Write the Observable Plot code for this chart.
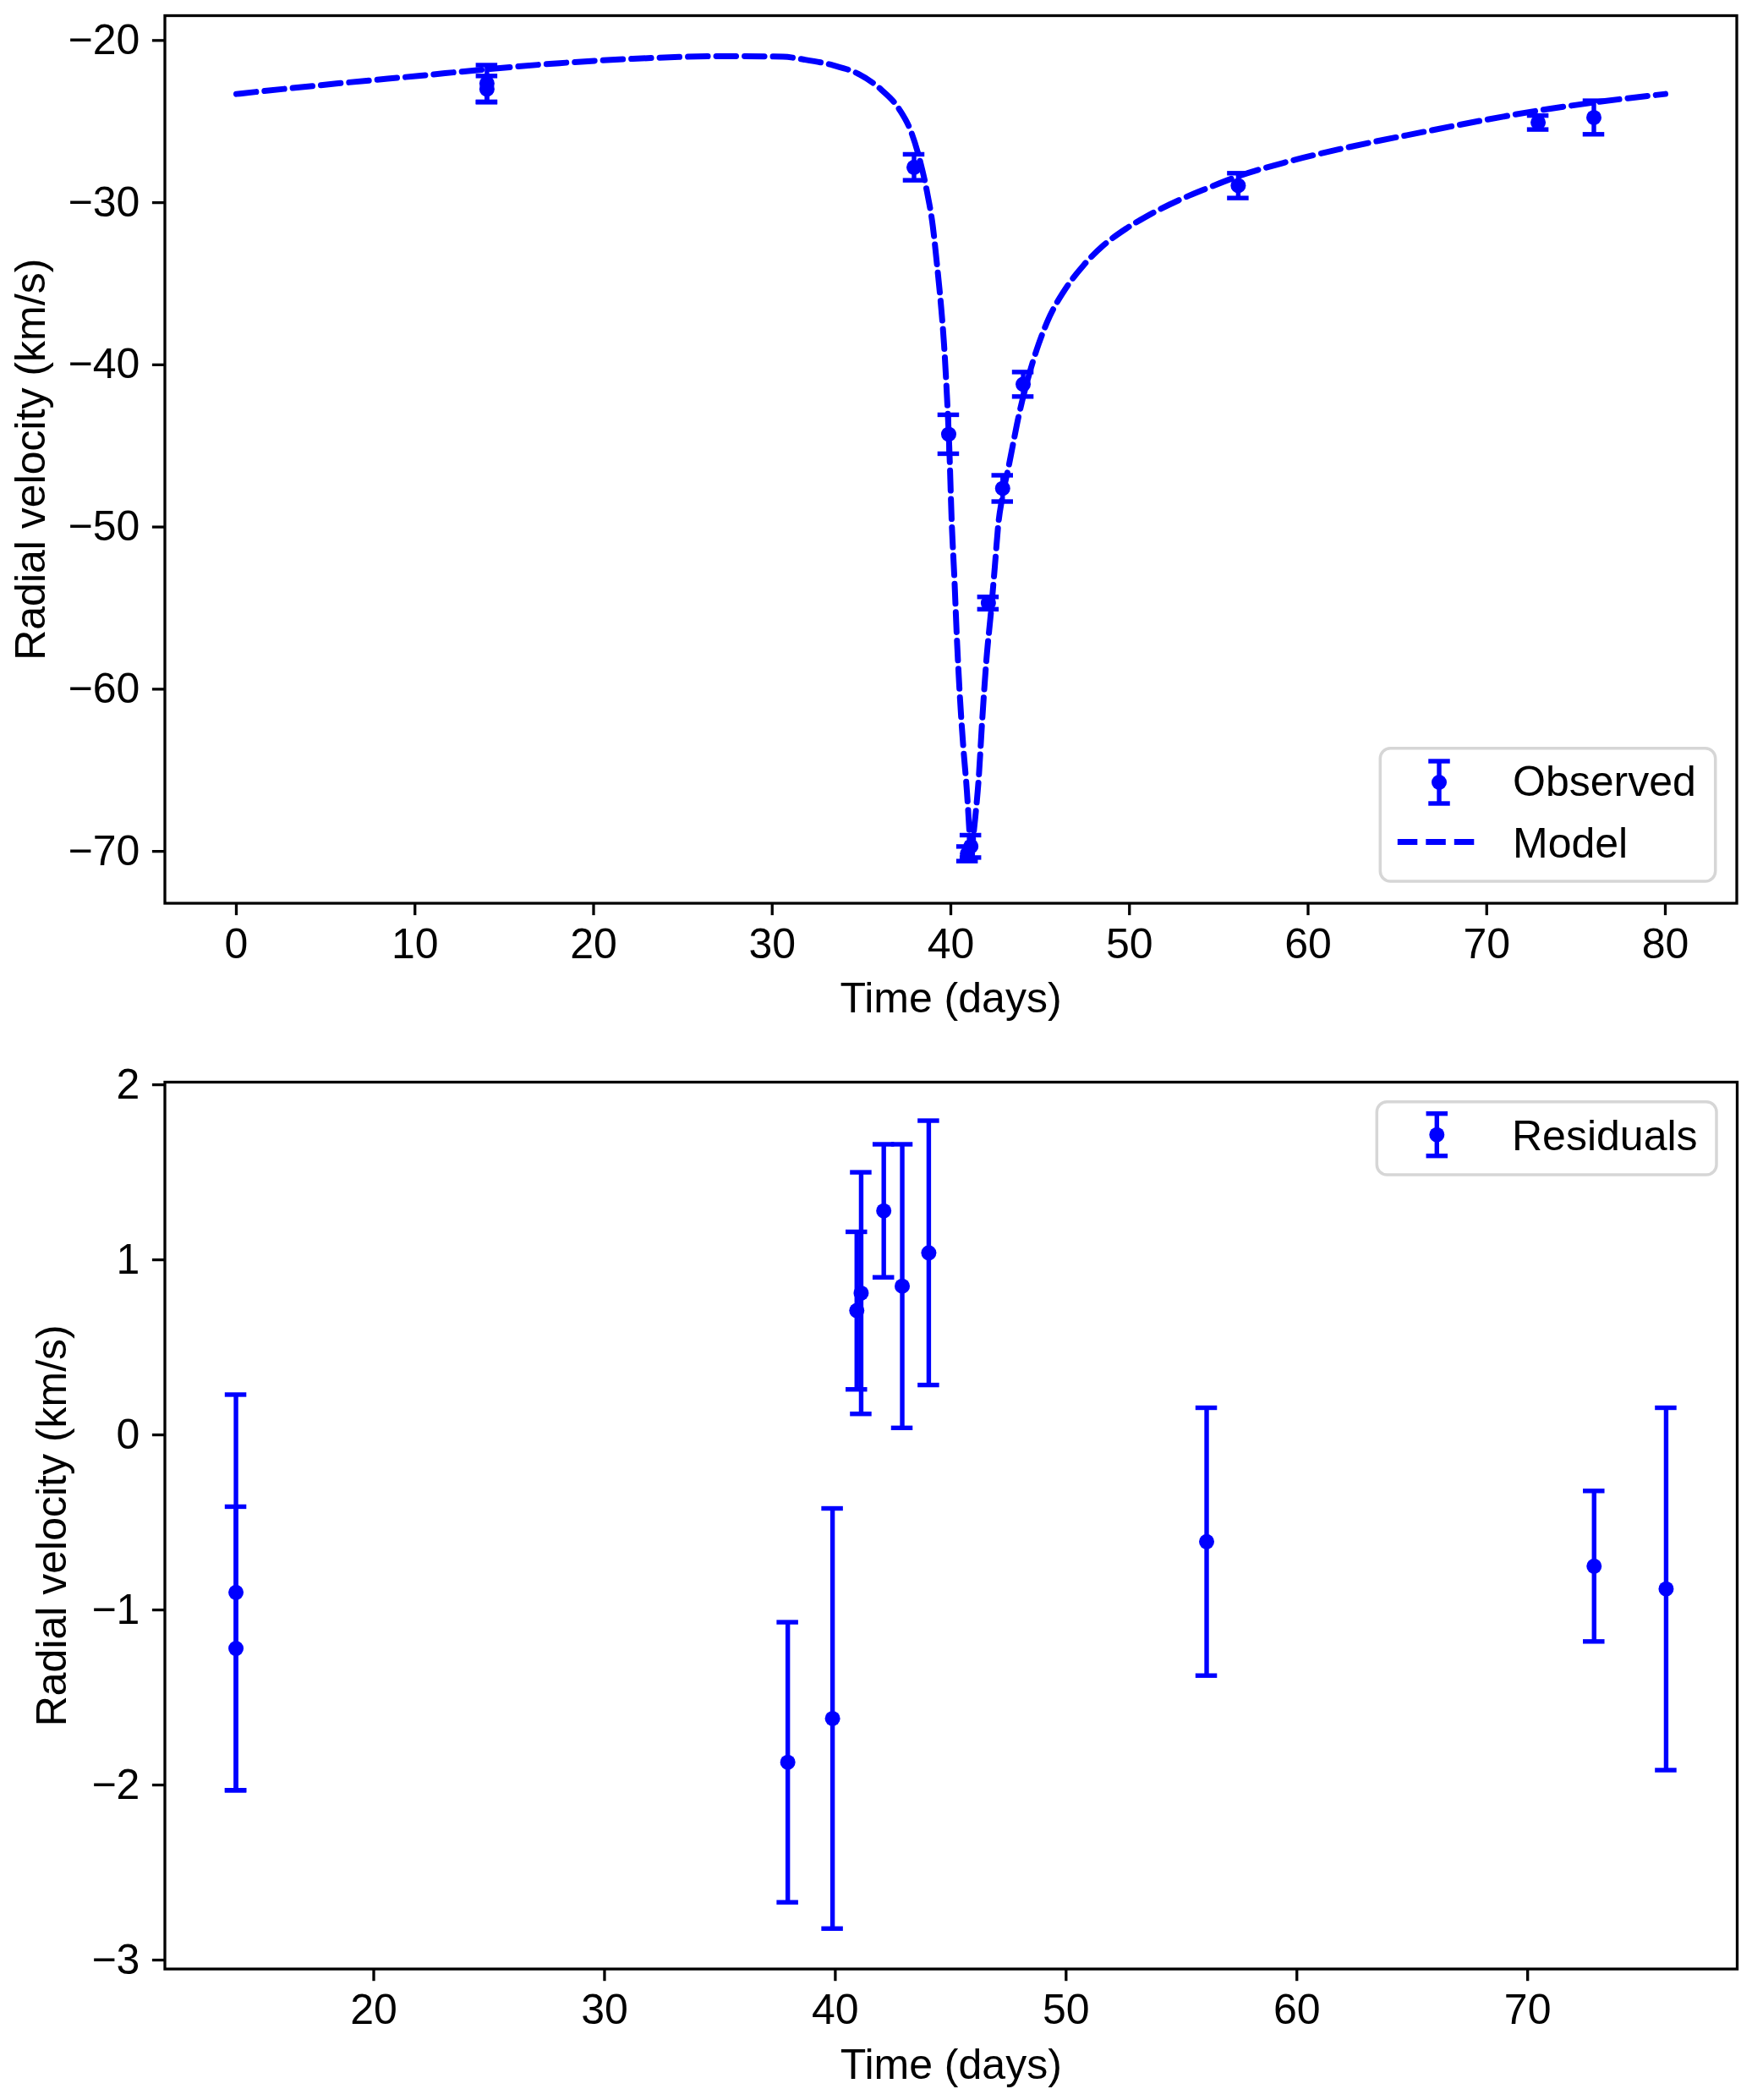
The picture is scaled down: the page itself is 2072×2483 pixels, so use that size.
<!DOCTYPE html>
<html>
<head>
<meta charset="utf-8">
<script src="https://cdn.jsdelivr.net/npm/d3@7"></script>
<script src="https://cdn.jsdelivr.net/npm/@observablehq/plot@0.6"></script>
<style>
  html, body { margin: 0; padding: 0; background: white; }
  #chart svg { display: block; }
</style>
</head>
<body>
<div id="chart"></div>
<script>
// ---- Data ----
const times     = [14.03, 14.03, 37.94, 39.88, 40.93, 41.12, 42.10, 42.90, 44.05, 56.09, 72.88, 76.00];
const observed  = [-22.65, -23.00, -27.82, -44.28, -70.15, -69.69, -54.69, -47.62, -41.20, -28.95, -25.06, -24.75];
const errors    = [1.13, 0.81, 0.80, 1.20, 0.45, 0.69, 0.38, 0.81, 0.755, 0.765, 0.43, 1.035];
const residuals = [-0.90, -1.22, -1.87, -1.62, 0.71, 0.81, 1.28, 0.85, 1.04, -0.61, -0.75, -0.88];

const modelTime = [0, 5.6, 10.3, 14.07, 18.1, 22.2, 27.5, 30.6, 31.8, 33.4, 34.8, 36.07, 37.1, 37.8, 38.28, 38.67,
  38.99, 39.23, 39.46, 39.62, 39.78, 39.91, 40.05, 40.2, 40.33, 40.49, 40.7, 40.9, 41.05, 41.13, 41.22, 41.36,
  41.56, 41.75, 41.99, 42.26, 42.46, 42.67, 42.86, 43.25, 43.49, 43.8, 44.28, 44.91, 45.54, 46.33, 47.44, 48.54,
  49.8, 51.0, 52.78, 54.25, 56.12, 58.78, 61.7, 66.55, 69.8, 73.03, 76.04, 80];
const modelRV = [-23.3, -22.66, -22.17, -21.77, -21.4, -21.13, -20.97, -21.0, -21.18, -21.53, -22.05, -23.0, -24.22, -25.7, -27.44, -29.35,
  -31.44, -33.87, -36.48, -38.74, -41.87, -45.0, -49.7, -53.17, -56.65, -60.13, -63.6, -66.3, -69.0, -70.7, -69.5, -68.0,
  -65.5, -62.04, -58.22, -55.09, -52.48, -49.7, -48.3, -46.2, -44.85, -43.15, -41.0, -38.74, -37.0, -35.46, -33.85, -32.64,
  -31.61, -30.82, -29.84, -29.16, -28.36, -27.5, -26.72, -25.62, -24.92, -24.3, -23.82, -23.3];

const topXTicks = [0, 10, 20, 30, 40, 50, 60, 70, 80];
const topYTicks = [-70, -60, -50, -40, -30, -20];
const botXTicks = [20, 30, 40, 50, 60, 70];
const botYTicks = [-3, -2, -1, 0, 1, 2];

const xLabel = "Time (days)";
const yLabel = "Radial velocity (km/s)";

(function () {
  // ---- Tables ----
  const obsRows = times.map((t, i) => ({t, v: observed[i], e: errors[i]}));
  const resRows = times.map((t, i) => ({t, v: residuals[i], e: errors[i]}));
  const modelRows = modelTime.map((t, i) => ({t, v: modelRV[i]}));

  const BLUE = "#0000ff";
  const FONT = "Liberation Sans, Arial, Helvetica, sans-serif";
  const FS = 50;
  const EW = 5.4;      // error bar line width
  const CAP = 12.75;   // half cap length
  const R = 9;         // marker radius
  const LW = 7;        // model line width
  const DASH = "23.5 10";
  const minus = d => (d < 0 ? "\u2212" : "") + Math.abs(d);

  function errMarks(rows) {
    return [
      Plot.ruleX(rows, {x: "t", y1: d => d.v - d.e, y2: d => d.v + d.e, stroke: BLUE, strokeWidth: EW}),
      Plot.ruleY(rows, {x1: "t", x2: "t", y: d => d.v - d.e, insetLeft: -CAP, insetRight: -CAP, stroke: BLUE, strokeWidth: EW}),
      Plot.ruleY(rows, {x1: "t", x2: "t", y: d => d.v + d.e, insetLeft: -CAP, insetRight: -CAP, stroke: BLUE, strokeWidth: EW}),
      Plot.dot(rows, {x: "t", y: "v", r: R, fill: BLUE, stroke: "none"})
    ];
  }

  function axes(xt, yt, ylabDx, xlabDy) {
    return [
      Plot.axisX({ticks: xt, tickSize: 14.6, tickPadding: 15, fontSize: FS, strokeWidth: 3.3, tickFormat: minus, label: null}),
      Plot.axisY({ticks: yt, tickSize: 14.6, tickPadding: 15, fontSize: FS, strokeWidth: 3.3, tickFormat: minus, label: null}),
      Plot.frame({stroke: "black", strokeWidth: 3.3}),
      Plot.text([xLabel], {frameAnchor: "bottom", dy: xlabDy, text: d => d, fontSize: FS, lineAnchor: "middle", fill: "black"}),
      Plot.text([yLabel], {frameAnchor: "left", dx: ylabDx, text: d => d, fontSize: FS, rotate: -90, lineAnchor: "middle", textAnchor: "middle", fill: "black"})
    ];
  }

  const H1 = 1240, H2 = 1243;

  const topChart = Plot.plot({
    width: 2072, height: H1,
    marginLeft: 194.5, marginRight: 18.5, marginTop: 18, marginBottom: H1 - 1067.5,
    x: {domain: [-4, 84]},
    y: {domain: [-73.2, -18.47]},
    style: {fontFamily: FONT, background: "white", color: "black", overflow: "visible"},
    marks: [
      ...errMarks(obsRows),
      Plot.line(modelRows, {x: "t", y: "v", stroke: BLUE, strokeWidth: LW, strokeDasharray: DASH, curve: "monotone-x"}),
      ...axes(topXTicks, topYTicks, -158, 113.4)
    ]
  });

  const bottomChart = Plot.plot({
    width: 2072, height: H2,
    marginLeft: 194.5, marginRight: 18, marginTop: 1279 - H1, marginBottom: H2 - (2327.6 - H1),
    x: {domain: [10.95, 79.08]},
    y: {domain: [-3.051, 2.015]},
    style: {fontFamily: FONT, background: "white", color: "black", overflow: "visible"},
    marks: [
      ...errMarks(resRows),
      ...axes(botXTicks, botYTicks, -132.7, 113.4)
    ]
  });

  // ---- Legends (drawn onto the SVGs) ----
  function legendBox(svg, x0, y0, x1, y1) {
    d3.select(svg).append("rect")
      .attr("x", x0).attr("y", y0).attr("width", x1 - x0).attr("height", y1 - y0)
      .attr("rx", 12).attr("ry", 12)
      .attr("fill", "white").attr("fill-opacity", 0.8)
      .attr("stroke", "#d6d6d6").attr("stroke-width", 3.5);
  }
  function legendErr(svg, x, yc, half) {
    const g = d3.select(svg).append("g").attr("stroke", BLUE).attr("stroke-width", EW);
    g.append("line").attr("x1", x).attr("x2", x).attr("y1", yc - half).attr("y2", yc + half);
    g.append("line").attr("x1", x - CAP).attr("x2", x + CAP).attr("y1", yc - half).attr("y2", yc - half);
    g.append("line").attr("x1", x - CAP).attr("x2", x + CAP).attr("y1", yc + half).attr("y2", yc + half);
    d3.select(svg).append("circle").attr("cx", x).attr("cy", yc).attr("r", R).attr("fill", BLUE);
  }
  function legendText(svg, x, baseline, s) {
    d3.select(svg).append("text").attr("x", x).attr("y", baseline)
      .attr("text-anchor", "start")
      .attr("font-size", FS).attr("font-family", FONT).attr("fill", "black").text(s);
  }

  legendBox(topChart, 1632.3, 884.7, 2028.7, 1042);
  legendErr(topChart, 1702, 925, 25);
  legendText(topChart, 1789, 941, "Observed");
  d3.select(topChart).append("line")
    .attr("x1", 1652.8).attr("x2", 1751.9).attr("y1", 995.4).attr("y2", 995.4)
    .attr("stroke", BLUE).attr("stroke-width", LW).attr("stroke-dasharray", DASH);
  legendText(topChart, 1789, 1013.5, "Model");

  const o = H1;
  legendBox(bottomChart, 1628.3, 1302.7 - o, 2030, 1389 - o);
  legendErr(bottomChart, 1699.3, 1341.7 - o, 25);
  legendText(bottomChart, 1788, 1360 - o, "Residuals");

  document.getElementById("chart").append(topChart, bottomChart);
})();
</script>
</body>
</html>
